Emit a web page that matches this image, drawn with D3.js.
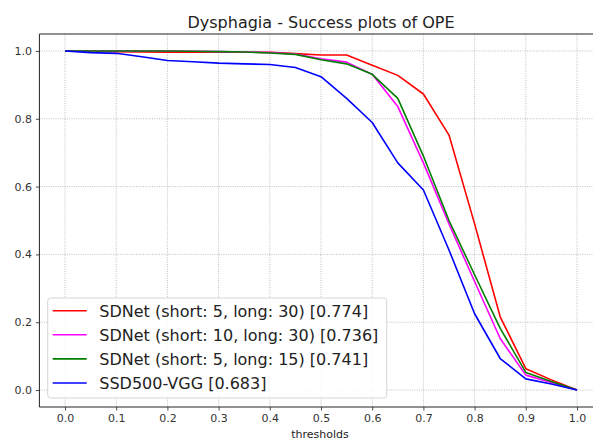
<!DOCTYPE html>
<html>
<head>
<meta charset="utf-8">
<script src="https://cdn.jsdelivr.net/npm/d3@7"></script>
<style>
  html, body { margin: 0; padding: 0; background: #fff; }
  svg { display: block; font-family: "DejaVu Sans", sans-serif; }
</style>
</head>
<body>
<svg id="chart" width="593" height="440"></svg>
<script>
const thresholds = [0.0, 0.05, 0.1, 0.15, 0.2, 0.25, 0.3, 0.35, 0.4, 0.45, 0.5, 0.55, 0.6, 0.65, 0.7, 0.75, 0.8, 0.85, 0.9, 0.95, 1.0];
const sdnet_5_30  = [1.0, 0.999, 0.998, 0.997, 0.996, 0.996, 0.996, 0.996, 0.996, 0.992, 0.988, 0.988, 0.958, 0.928, 0.873, 0.752, 0.49, 0.216, 0.063, 0.03, 0.0];
const sdnet_10_30 = [1.0, 1.0, 1.0, 1.0, 1.0, 0.999, 0.998, 0.997, 0.995, 0.991, 0.977, 0.967, 0.931, 0.836, 0.67, 0.49, 0.32, 0.152, 0.044, 0.022, 0.0];
const sdnet_5_15  = [1.0, 1.0, 1.0, 1.0, 1.0, 0.999, 0.998, 0.997, 0.994, 0.99, 0.974, 0.962, 0.931, 0.86, 0.69, 0.5, 0.34, 0.182, 0.052, 0.025, 0.0];
const ssd500_vgg  = [1.0, 0.995, 0.993, 0.983, 0.972, 0.968, 0.964, 0.962, 0.96, 0.951, 0.924, 0.86, 0.789, 0.67, 0.59, 0.413, 0.225, 0.093, 0.033, 0.018, 0.0];
const seriesNames = ["SDNet (short: 5, long: 30) [0.774]", "SDNet (short: 10, long: 30) [0.736]", "SDNet (short: 5, long: 15) [0.741]", "SSD500-VGG [0.683]"];
const seriesColors = ["#ff0000", "#ff00ff", "#008000", "#0000ff"];
const xTicks = [0.0, 0.1, 0.2, 0.3, 0.4, 0.5, 0.6, 0.7, 0.8, 0.9, 1.0];
const yTicks = [0.0, 0.2, 0.4, 0.6, 0.8, 1.0];
const titleText = "Dysphagia - Success plots of OPE";
const xLabel = "thresholds";

const seriesValues = [sdnet_5_30, sdnet_10_30, sdnet_5_15, ssd500_vgg];

const svg = d3.select("#chart");
const pL = 39.4, pR = 602.6, pT = 34, pB = 407;

const x = d3.scaleLinear().domain([-0.05, 1.05]).range([pL, pR]);
const y = d3.scaleLinear().domain([-0.05, 1.05]).range([pB, pT]);

const defs = svg.append("defs");
defs.append("clipPath").attr("id", "clip").append("rect")
  .attr("x", pL).attr("y", pT).attr("width", pR - pL).attr("height", pB - pT);

// grid
const grid = svg.append("g");
grid.selectAll(".gx").data(xTicks).enter().append("line")
  .attr("x1", d => x(d)).attr("x2", d => x(d)).attr("y1", pT).attr("y2", pB)
  .attr("stroke", "#b0b0b0").attr("stroke-width", 0.8).attr("stroke-dasharray", "1,1.3");
grid.selectAll(".gy").data(yTicks).enter().append("line")
  .attr("y1", d => y(d)).attr("y2", d => y(d)).attr("x1", pL).attr("x2", pR)
  .attr("stroke", "#b0b0b0").attr("stroke-width", 0.8).attr("stroke-dasharray", "1,1.3");

// lines
const line = d3.line().x((d, i) => x(thresholds[i])).y(d => y(d));
const lines = svg.append("g").attr("clip-path", "url(#clip)");
seriesValues.forEach((vals, k) => {
  lines.append("path").datum(vals).attr("d", line)
    .attr("fill", "none").attr("stroke", seriesColors[k]).attr("stroke-width", 1.6)
    .attr("stroke-linejoin", "round").attr("stroke-linecap", "butt");
});

// axes
const xAxis = d3.axisBottom(x).tickValues(xTicks).tickFormat(d3.format(".1f")).tickSize(3.5).tickPadding(4);
const yAxis = d3.axisLeft(y).tickValues(yTicks).tickFormat(d3.format(".1f")).tickSize(3.5).tickPadding(4);
const gx = svg.append("g").attr("transform", `translate(0,${pB})`).call(xAxis);
const gy = svg.append("g").attr("transform", `translate(${pL},0)`).call(yAxis);
[gx, gy].forEach(g => {
  g.select(".domain").remove();
  g.selectAll(".tick line").attr("stroke", "#222").attr("stroke-width", 0.8);
  g.selectAll(".tick text").attr("fill", "#333").attr("font-size", 11).attr("font-family", "DejaVu Sans");
});

// spines
const spines = svg.append("g").attr("stroke", "#222").attr("stroke-width", 1).attr("fill", "none");
spines.append("line").attr("x1", pL).attr("x2", pL).attr("y1", pT).attr("y2", pB);
spines.append("line").attr("x1", pL).attr("x2", pR).attr("y1", pB).attr("y2", pB);
spines.append("line").attr("x1", pL).attr("x2", pR).attr("y1", pT).attr("y2", pT);
spines.append("line").attr("x1", pR).attr("x2", pR).attr("y1", pT).attr("y2", pB);

// title
svg.append("text").attr("x", (pL + pR) / 2).attr("y", 27.5).attr("text-anchor", "middle")
  .attr("font-size", 16).attr("fill", "#222").text(titleText);

// x label
svg.append("text").attr("x", (pL + pR) / 2 - 1).attr("y", 437.5).attr("text-anchor", "middle")
  .attr("font-size", 11).attr("fill", "#222").text(xLabel);

// legend
const lg = svg.append("g");
lg.append("rect").attr("x", 47.7).attr("y", 298).attr("width", 339).attr("height", 100)
  .attr("rx", 3).attr("fill", "#fff").attr("fill-opacity", 0.85)
  .attr("stroke", "#d5d5d5").attr("stroke-width", 1);
seriesNames.forEach((name, k) => {
  const yy = 310.7 + k * 24.1;
  lg.append("line").attr("x1", 52.7).attr("x2", 86.7).attr("y1", yy).attr("y2", yy)
    .attr("stroke", seriesColors[k]).attr("stroke-width", 1.6);
  lg.append("text").attr("x", 99.3).attr("y", yy + 6).attr("font-size", 16).attr("fill", "#222").text(name);
});
</script>
</body>
</html>
